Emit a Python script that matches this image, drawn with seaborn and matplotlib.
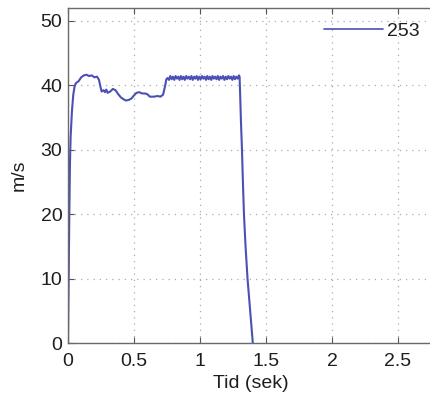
import matplotlib
matplotlib.use("Agg")
import matplotlib.pyplot as plt
import seaborn as sns
import pandas as pd

# time (s) and speed (m/s)
tid = [0.0, 0.005, 0.01, 0.015, 0.02, 0.03, 0.04, 0.05, 0.06, 0.08, 0.10, 0.12, 0.14, 0.16,
       0.18, 0.20, 0.22, 0.235, 0.245, 0.255, 0.27, 0.28, 0.29, 0.30, 0.32, 0.34, 0.36,
       0.38, 0.40, 0.42, 0.44, 0.46, 0.48, 0.50, 0.52, 0.54, 0.56, 0.58, 0.60, 0.62,
       0.65, 0.68, 0.70, 0.72, 0.735, 0.745, 0.755,
       0.765, 0.775, 0.785, 0.795, 0.805, 0.815, 0.825, 0.835, 0.845, 0.855, 0.865,
       0.875, 0.885, 0.895, 0.905, 0.915, 0.925, 0.935, 0.945, 0.955, 0.965, 0.975,
       0.985, 0.995, 1.005, 1.015, 1.025, 1.035, 1.045, 1.055, 1.065, 1.075, 1.085,
       1.095, 1.105, 1.115, 1.125, 1.135, 1.145, 1.155, 1.165, 1.175, 1.185, 1.195,
       1.205, 1.215, 1.225, 1.235, 1.245, 1.255, 1.265, 1.275, 1.285, 1.295, 1.30,
       1.305, 1.31, 1.318, 1.325, 1.333, 1.345, 1.36, 1.38, 1.40]
fart = [0.0, 10.0, 20.0, 28.0, 32.0, 36.0, 38.5, 39.8, 40.3, 40.6, 41.2, 41.5, 41.6, 41.4,
        41.5, 41.2, 41.3, 40.8, 39.8, 39.0, 39.2, 38.9, 39.3, 38.8, 39.0, 39.4, 39.2,
        38.6, 38.1, 37.8, 37.6, 37.7, 37.9, 38.4, 38.8, 38.9, 38.7, 38.7, 38.6, 38.2,
        38.2, 38.3, 38.2, 38.5, 39.8, 40.9, 41.1,
        40.8, 41.4, 40.9, 41.3, 40.8, 41.4, 41.0, 41.3, 40.8, 41.4, 40.9, 41.3, 40.8,
        41.4, 41.0, 41.3, 40.9, 41.4, 40.8, 41.3, 41.0, 41.4, 40.8, 41.3, 40.9, 41.4,
        41.0, 41.3, 40.8, 41.4, 40.9, 41.3, 40.8, 41.4, 41.0, 41.3, 40.9, 41.4, 40.8,
        41.3, 41.0, 41.4, 40.8, 41.3, 40.9, 41.4, 41.0, 41.3, 40.8, 41.4, 40.9, 41.3,
        41.0, 41.5, 41.3, 38.0, 34.5, 30.0, 25.0, 20.0, 15.0, 10.0, 5.0, 0.0]
serie = "253"
x_ticks = [0, 0.5, 1, 1.5, 2, 2.5]
x_tick_labels = ["0", "0.5", "1", "1.5", "2", "2.5"]
y_ticks = [0, 10, 20, 30, 40, 50]
x_label = "Tid (sek)"
y_label = "m/s"

df = pd.DataFrame({"t": tid, "v": fart, "serie": [serie] * len(tid)})

sns.set_theme(style="white")
plt.rcParams["font.family"] = ["Liberation Sans", "DejaVu Sans"]
txt = "#1e1e1e"
plt.rcParams["text.color"] = txt
plt.rcParams["axes.labelcolor"] = txt
plt.rcParams["xtick.color"] = "#555555"
plt.rcParams["ytick.color"] = "#555555"

fig = plt.figure(figsize=(4.3, 4.0), dpi=100)
W, H = 430, 400
left, right, top, bottom = 68, 434, 8, 343
ax = fig.add_axes([left / W, 1 - bottom / H, (right - left) / W, (bottom - top) / H])

sns.lineplot(data=df, x="t", y="v", hue="serie", palette=["#4a50b4"], linewidth=1.5,
             ax=ax, sort=False, estimator=None)

ax.set_xlim(0, (right - left) / 132.0)
ax.set_ylim(0, 51.95)
ax.set_xticks(x_ticks)
ax.set_xticklabels(x_tick_labels)
ax.set_yticks(y_ticks)
ax.grid(True, linestyle=(0, (1, 4)), color="#ababab", linewidth=0.9)
for s in ax.spines.values():
    s.set_color("#6a6a6a")
    s.set_linewidth(1.0)
ax.tick_params(axis="both", direction="in", length=4, width=0.8, labelsize=14,
               labelcolor=txt, top=True, bottom=True, left=True, right=False)
ax.tick_params(axis="x", pad=7)
ax.tick_params(axis="y", pad=4)
ax.set_xlabel(x_label, fontsize=14, labelpad=4)
ax.set_ylabel(y_label, fontsize=14, labelpad=9)

leg = ax.legend(loc="upper right", bbox_to_anchor=(420 / W, 1 - 22 / H),
                bbox_transform=fig.transFigure, frameon=False, fontsize=14,
                handlelength=3.0, handletextpad=0.25, borderpad=0, borderaxespad=0)
for h in leg.get_lines():
    h.set_linewidth(1.2)

fig.savefig("out.png", dpi=100)
